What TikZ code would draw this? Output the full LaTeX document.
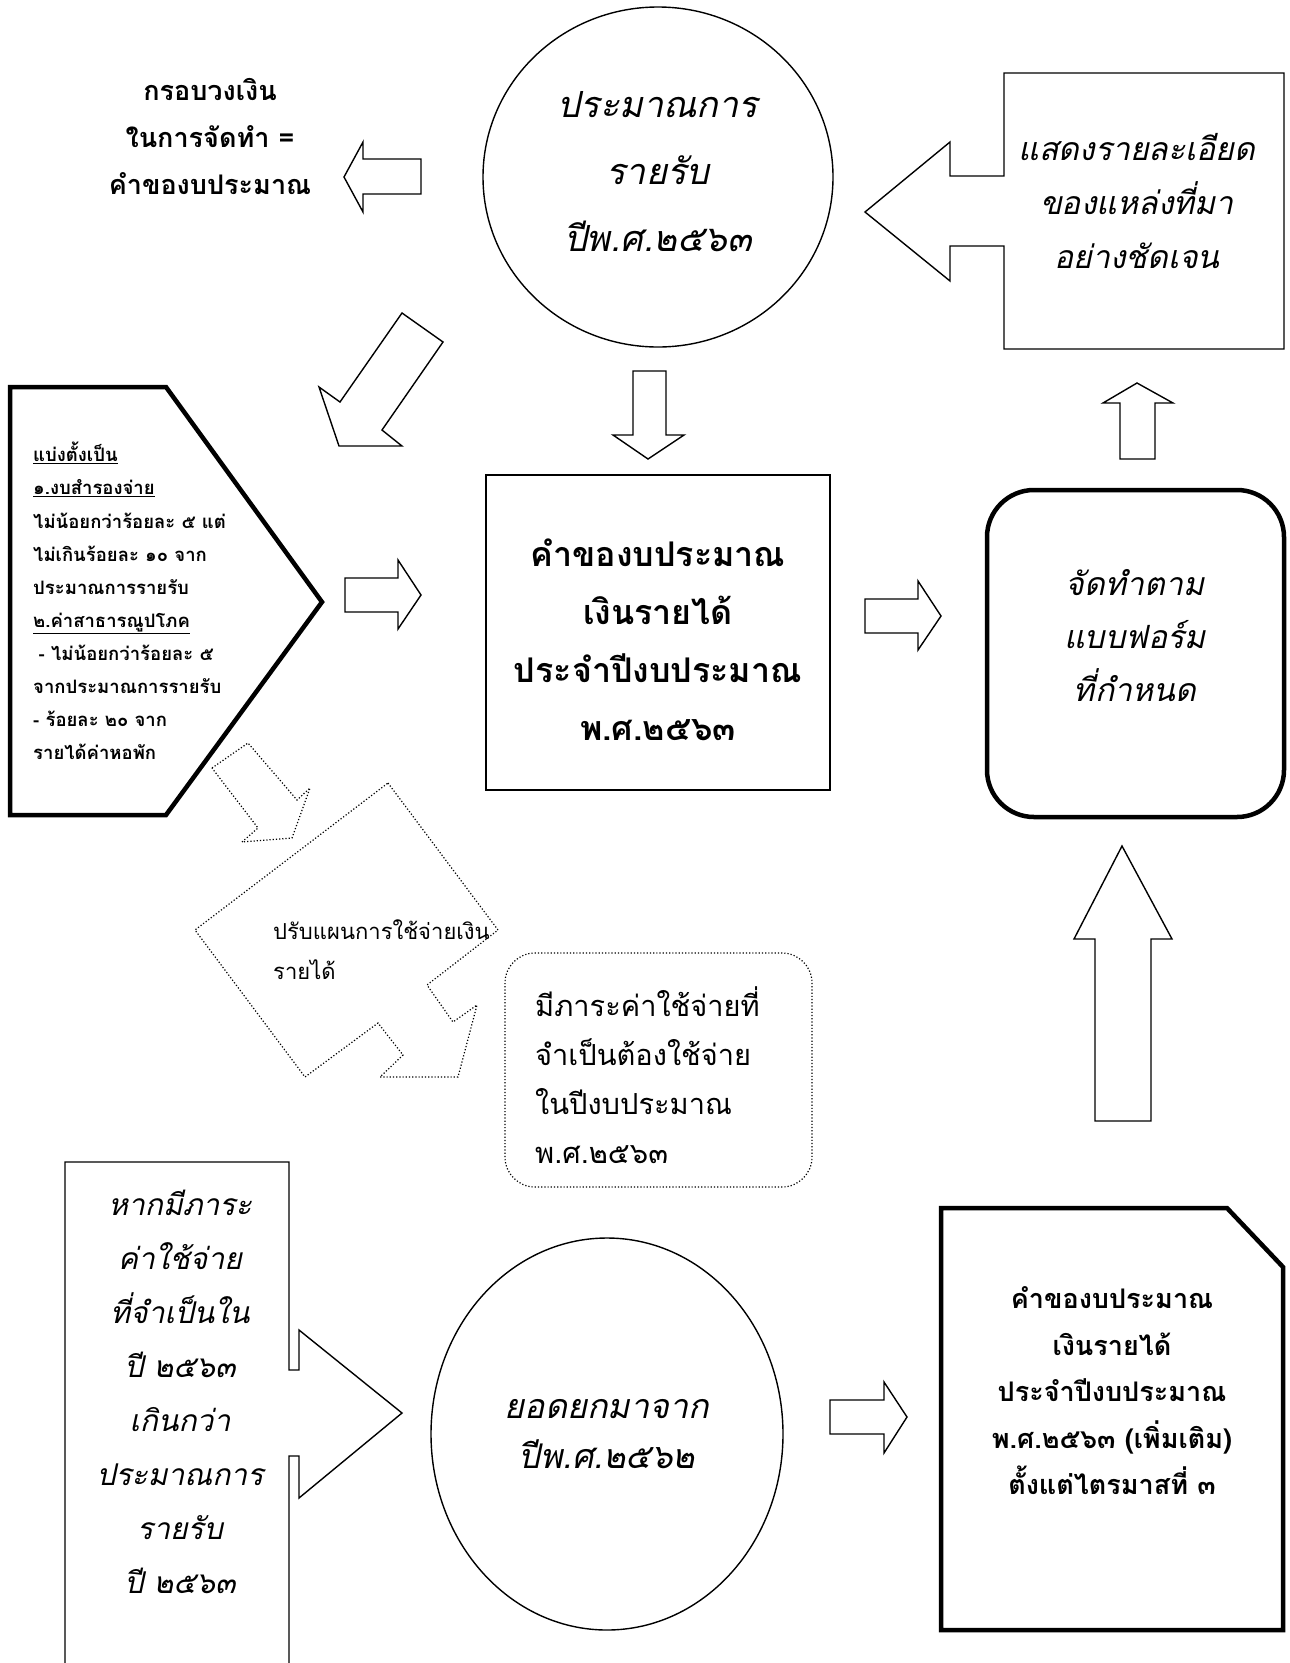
\documentclass[tikz,border=0pt]{standalone}
\usepackage{fontspec}
\setmainfont[Script=Thai]{Loma}
\usetikzlibrary{shapes.geometric}
\begin{document}
\begin{tikzpicture}[x=1pt,y=-1pt,
  blk/.style={draw=black,line width=1.4pt,line join=miter},
  blkthick/.style={draw=black,line width=4.5pt,line join=miter},
  dotpath/.style={draw=black,line width=1.2pt,dash pattern=on 1.2pt off 2pt},
  txt/.style={inner sep=0pt,align=center},
]
\useasboundingbox[fill=white] (0,0) rectangle (1290,1663);

% top circle
\node[blk,ellipse,minimum width=350pt,minimum height=340pt,inner sep=0pt] (topc) at (658,177) {};
\node[txt,font=\fontsize{36}{67}\selectfont\itshape] (topt) at (658,172)
  {ประมาณการ\\รายรับ\\ปีพ.ศ.๒๕๖๓};

% frame text top-left
\node[txt,font=\fontsize{27}{47}\selectfont\bfseries] (frame) at (210,136)
  {กรอบวงเงิน\\ในการจัดทำ =\\คำของบประมาณ};
\draw[blk] (421,159) -- (363,159) -- (363,142) -- (344,177) -- (363,212) -- (363,194) -- (421,194) -- cycle;

% right callout
\draw[blk] (1004,73) -- (1284,73) -- (1284,349) -- (1004,349) -- (1004,246) -- (950,246)
  -- (950,281) -- (865,212) -- (950,142) -- (950,176) -- (1004,176) -- cycle;
\node[txt,font=\fontsize{32}{54}\selectfont\itshape] (detail) at (1137,201)
  {แสดงรายละเอียด\\ของแหล่งที่มา\\อย่างชัดเจน};

% diagonal arrow
\draw[blk] (402,313) -- (443,342) -- (382,430) -- (402,446) -- (339,446) -- (319,387) -- (340,402) -- cycle;

% down arrow under circle
\draw[blk] (633,371) -- (666,371) -- (666,435) -- (684,435) -- (648,459) -- (613,435) -- (633,435) -- cycle;

% center box
\draw[blk] (486,475) rectangle (830,790);
\node[txt,font=\fontsize{34}{58}\selectfont\bfseries] (req) at (658,640)
  {คำของบประมาณ\\เงินรายได้\\ประจำปีงบประมาณ\\พ.ศ.๒๕๖๓};

% pentagon
\draw[blkthick] (10,387) -- (166,387) -- (322,602) -- (166,815) -- (10,815) -- cycle;
\node[inner sep=0pt,align=left,anchor=west,font=\fontsize{18.5}{33.1}\selectfont\bfseries] (alloc) at (33,601)
  {\underline{แบ่งตั้งเป็น}\\
   \underline{๑.งบสำรองจ่าย}\\
   ไม่น้อยกว่าร้อยละ ๕ แต่\\
   ไม่เกินร้อยละ ๑๐ จาก\\
   ประมาณการรายรับ\\
   \underline{๒.ค่าสาธารณูปโภค}\\
   \hspace*{0.3em}- ไม่น้อยกว่าร้อยละ ๕\\
   จากประมาณการรายรับ\\
   - ร้อยละ ๒๐ จาก\\
   รายได้ค่าหอพัก};

% right arrows (middle row)
\draw[blk] (345,578) -- (398,578) -- (398,560) -- (421,595) -- (398,629) -- (398,612) -- (345,612) -- cycle;
\draw[blk] (865,599) -- (918,599) -- (918,581) -- (941,616) -- (918,650) -- (918,633) -- (865,633) -- cycle;

% right rounded box
\draw[draw=black,line width=4.5pt,rounded corners=47pt] (987,490) rectangle (1284,817);
\node[txt,font=\fontsize{32}{53}\selectfont\itshape] (form) at (1135,636)
  {จัดทำตาม\\แบบฟอร์ม\\ที่กำหนด};
% small up arrow
\draw[blk] (1120,459) -- (1120,403) -- (1103,403) -- (1137,383) -- (1173,403) -- (1155,403) -- (1155,459) -- cycle;
% big up arrow
\draw[blk] (1095,1121) -- (1095,939) -- (1074,939) -- (1122,846) -- (1172,939) -- (1151,939) -- (1151,1121) -- cycle;

% dotted arrows
\draw[dotpath] (212,768) -- (248,743) -- (297,800) -- (310,788) -- (292,838) -- (242,842) -- (258,828) -- cycle;
\draw[dotpath] (388,783) -- (498,930) -- (427,985) -- (453,1022) -- (477,1005) -- (458,1077) -- (380,1077)
  -- (403,1055) -- (378,1023) -- (305,1077) -- (195,930) -- cycle;
\node[inner sep=0pt,align=left,anchor=west,font=\fontsize{22}{40}\selectfont] (adjust) at (273,950)
  {ปรับแผนการใช้จ่ายเงิน\\รายได้};

% dotted rounded rect
\draw[dotpath,rounded corners=30pt] (505,953) rectangle (812,1187);
\node[inner sep=0pt,align=left,anchor=west,font=\fontsize{29}{49}\selectfont] (need) at (535,1075)
  {มีภาระค่าใช้จ่ายที่\\จำเป็นต้องใช้จ่าย\\ในปีงบประมาณ\\พ.ศ.๒๕๖๓};

% bottom-left box with arrow
\draw[blk] (65,1675) -- (65,1162) -- (289,1162) -- (289,1370) -- (299,1370) -- (299,1330) -- (402,1413)
  -- (299,1498) -- (299,1456) -- (289,1456) -- (289,1675);
\node[txt,font=\fontsize{30}{54}\selectfont\itshape] (exceed) at (180,1392)
  {หากมีภาระ\\ค่าใช้จ่าย\\ที่จำเป็นใน\\ปี ๒๕๖๓\\เกินกว่า\\ประมาณการ\\รายรับ\\ปี ๒๕๖๓};

% bottom circle
\node[blk,ellipse,minimum width=352pt,minimum height=392pt,inner sep=0pt,
  align=center,font=\fontsize{34}{50}\selectfont\itshape] (carry) at (607,1434)
  {ยอดยกมาจาก\\ปีพ.ศ.๒๕๖๒};
\draw[blk] (830,1400) -- (884,1400) -- (884,1382) -- (907,1417) -- (884,1453) -- (884,1434) -- (830,1434) -- cycle;

% bottom-right snipped box
\draw[blkthick] (941,1208) -- (1227,1208) -- (1283,1267) -- (1283,1630) -- (941,1630) -- cycle;
\node[txt,font=\fontsize{27}{46.5}\selectfont\bfseries] (extra) at (1112,1391)
  {คำของบประมาณ\\เงินรายได้\\ประจำปีงบประมาณ\\พ.ศ.๒๕๖๓ (เพิ่มเติม)\\ตั้งแต่ไตรมาสที่ ๓};
\end{tikzpicture}
\end{document}
